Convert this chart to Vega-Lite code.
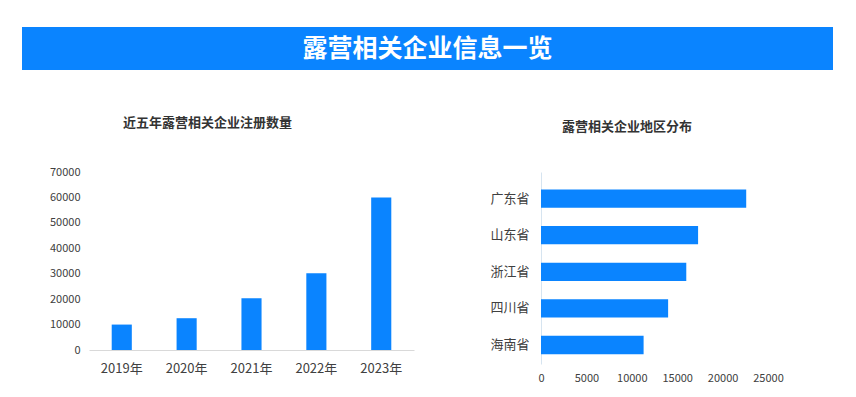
{
  "$schema": "https://vega.github.io/schema/vega-lite/v6.json",
  "padding": {"left": 22, "top": 27, "right": 10, "bottom": 5},
  "background": "white",
  "config": {
    "font": "Noto Sans CJK SC",
    "view": {"stroke": null},
    "axis": {"grid": false, "ticks": false, "labelFont": "Noto Sans CJK SC", "labelColor": "#404040"}
  },
  "datasets": {
    "years": [
      {"year": "2019年", "count": 10000},
      {"year": "2020年", "count": 12500},
      {"year": "2021年", "count": 20400},
      {"year": "2022年", "count": 30200},
      {"year": "2023年", "count": 60000}
    ],
    "regions": [
      {"province": "广东省", "count": 22600},
      {"province": "山东省", "count": 17300},
      {"province": "浙江省", "count": 16000},
      {"province": "四川省", "count": 14000},
      {"province": "海南省", "count": 11300}
    ],
    "header": [{"title": "露营相关企业信息一览"}],
    "empty": []
  },
  "spacing": 47,
  "vconcat": [
    {
      "width": 811,
      "height": 43,
      "view": {"fill": "#0A84FF", "stroke": null},
      "data": {"name": "header"},
      "mark": {"type": "text", "color": "white", "fontSize": 25, "fontWeight": "bold", "font": "Noto Sans CJK SC", "align": "center", "baseline": "middle"},
      "encoding": {"text": {"field": "title"}}
    },
    {
      "spacing": 0,
      "hconcat": [
        {
          "width": 1,
          "height": 1,
          "data": {"name": "empty"},
          "mark": "point"
        },
        {
          "spacing": 75,
          "hconcat": [
            {
              "width": 325,
              "height": 178,
              "data": {"name": "years"},
              "title": {"text": "近五年露营相关企业注册数量", "fontSize": 13, "fontWeight": "bold", "color": "#333333", "anchor": "start", "frame": "group", "dx": 34, "offset": 36},
              "mark": {"type": "bar", "color": "#0A84FF"},
              "encoding": {
                "x": {"field": "year", "type": "nominal", "sort": null, "title": null,
                      "scale": {"paddingInner": 0.69, "paddingOuter": 0.35},
                      "axis": {"labelAngle": 0, "labelFontSize": 13, "labelPadding": 12, "domainColor": "#d9d9d9"}},
                "y": {"field": "count", "type": "quantitative", "title": null,
                      "scale": {"domain": [0, 70000], "nice": false},
                      "axis": {"values": [0, 10000, 20000, 30000, 40000, 50000, 60000, 70000], "labelFontSize": 11, "labelPadding": 9, "domain": false, "minExtent": 66, "format": "d", "labelOverlap": false}}
              }
            },
            {
              "width": 227,
              "height": 192,
              "data": {"name": "regions"},
              "title": {"text": "露营相关企业地区分布", "fontSize": 13, "fontWeight": "bold", "color": "#333333", "anchor": "start", "frame": "group", "dx": 21, "offset": 38},
              "mark": {"type": "bar", "color": "#0A84FF"},
              "encoding": {
                "y": {"field": "province", "type": "nominal", "sort": null, "title": null,
                      "scale": {"paddingInner": 0.5, "paddingOuter": 0.373, "align": 0.64},
                      "axis": {"labelFontSize": 13, "labelPadding": 12, "domainColor": "#d6e4f0", "minExtent": 50}},
                "x": {"field": "count", "type": "quantitative", "title": null,
                      "scale": {"domain": [0, 25000], "nice": false},
                      "axis": {"values": [0, 5000, 10000, 15000, 20000, 25000], "labelFontSize": 11, "labelPadding": 8, "domain": false, "format": "d", "labelOverlap": false, "labelFlush": false}}
              }
            }
          ]
        }
      ]
    }
  ]
}
